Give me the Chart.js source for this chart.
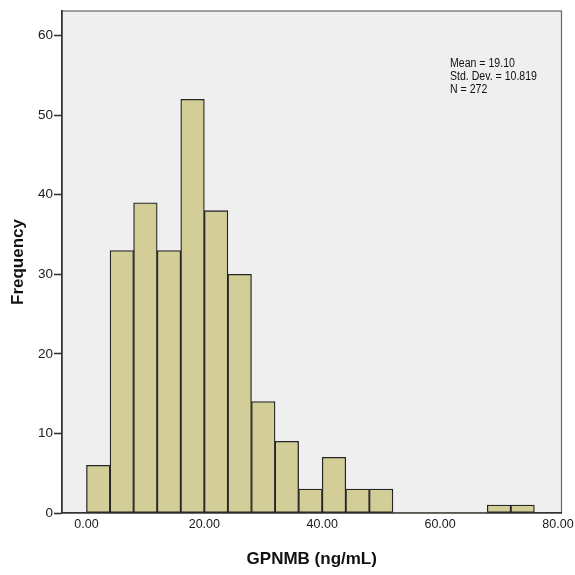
<!DOCTYPE html>
<html lang="en">
<head>
    <meta charset="UTF-8">
    <title>GPNMB Histogram</title>
    <script src="https://cdn.jsdelivr.net/npm/chart.js"></script>
    <style>
        body { margin: 0; background: #fff; font-family: "Liberation Sans", Arial, sans-serif; }
        canvas { display: block; }
    </style>
</head>
<body>
    <canvas id="histChart" width="575" height="575"></canvas>
<script>
    // histogram bins (ng/mL), width 4
    const binWidth = 4;
    const binStarts = [0, 4, 8, 12, 16, 20, 24, 28, 32, 36, 40, 44, 48, 52, 56, 60, 64, 68, 72];
    const counts = [6, 33, 39, 33, 52, 38, 30, 14, 9, 3, 7, 3, 3, 0, 0, 0, 0, 1, 1];
    const xTicks = [0, 20, 40, 60, 80];
    const yTicks = [0, 10, 20, 30, 40, 50, 60];
    const statsLines = ["Mean = 19.10", "Std. Dev. = 10.819", "N = 272"];

    const bars = binStarts.map((s, i) => ({ x: s + binWidth / 2, y: counts[i] }));

    // grey plot background with a thin frame
    const plotFrame = {
        id: 'plotFrame',
        beforeDraw(chart) {
            const a = chart.chartArea, ctx = chart.ctx;
            ctx.save();
            ctx.fillStyle = '#efefef';
            ctx.fillRect(a.left, a.top, a.right - a.left, a.bottom - a.top);
            ctx.strokeStyle = '#666';
            ctx.lineWidth = 1.2;
            ctx.strokeRect(a.left, a.top, a.right - a.left, a.bottom - a.top);
            ctx.restore();
        }
    };

    // summary statistics box (text slightly stretched vertically)
    const statsText = {
        id: 'statsText',
        afterDraw(chart) {
            const ctx = chart.ctx;
            ctx.save();
            ctx.fillStyle = '#111';
            ctx.font = '11px "Liberation Sans", Arial, sans-serif';
            ctx.textBaseline = 'top';
            ctx.textAlign = 'left';
            statsLines.forEach((t, i) => {
                ctx.save();
                ctx.translate(450, 57 + i * 13);
                ctx.scale(0.96, 1.15);
                ctx.fillText(t, 0, 0);
                ctx.restore();
            });
            ctx.restore();
        }
    };

    new Chart(document.getElementById('histChart'), {
        type: 'bar',
        data: {
            datasets: [{
                label: 'Frequency',
                data: bars,
                backgroundColor: '#d3ce97',
                borderColor: '#262626',
                borderWidth: c => (c.raw && c.raw.y > 0 ? 1.3 : 0),
                borderSkipped: false,
                barPercentage: 1,
                categoryPercentage: 1
            }]
        },
        options: {
            responsive: false,
            animation: false,
            layout: { padding: { top: 11, right: 13.5, left: 0, bottom: 0 } },
            plugins: { legend: { display: false }, tooltip: { enabled: false } },
            scales: {
                x: {
                    type: 'linear',
                    offset: false,
                    min: -4.15,
                    max: 80.6,
                    afterBuildTicks: s => { s.ticks = xTicks.map(v => ({ value: v })); },
                    afterFit: s => { s.height = 62; s.paddingLeft = 0; s.paddingRight = 0; },
                    grid: { drawOnChartArea: false, drawTicks: false, offset: false },
                    border: { color: '#333', width: 1.6 },
                    ticks: {
                        padding: 4,
                        color: '#1a1a1a',
                        font: { family: '"Liberation Sans", Arial, sans-serif', size: 12.5 },
                        callback: v => v.toFixed(2)
                    },
                    title: {
                        display: true,
                        text: 'GPNMB (ng/mL)',
                        color: '#111',
                        padding: { top: 0, bottom: 7 },
                        font: { family: '"Liberation Sans", Arial, sans-serif', size: 17, weight: 'bold', lineHeight: 1 }
                    }
                },
                y: {
                    min: 0,
                    max: 63.1,
                    afterBuildTicks: s => { s.ticks = yTicks.map(v => ({ value: v })); },
                    afterFit: s => { s.width = 62; },
                    grid: { drawOnChartArea: false, tickLength: 8, color: '#333', tickWidth: 1.6 },
                    border: { color: '#333', width: 1.6 },
                    ticks: {
                        padding: 1,
                        color: '#1a1a1a',
                        font: { family: '"Liberation Sans", Arial, sans-serif', size: 13.5 }
                    },
                    title: {
                        display: true,
                        text: 'Frequency',
                        color: '#111',
                        padding: { top: 10, bottom: 0 },
                        font: { family: '"Liberation Sans", Arial, sans-serif', size: 17, weight: 'bold', lineHeight: 1 }
                    }
                }
            }
        },
        plugins: [plotFrame, statsText]
    });
</script>
</body>
</html>
